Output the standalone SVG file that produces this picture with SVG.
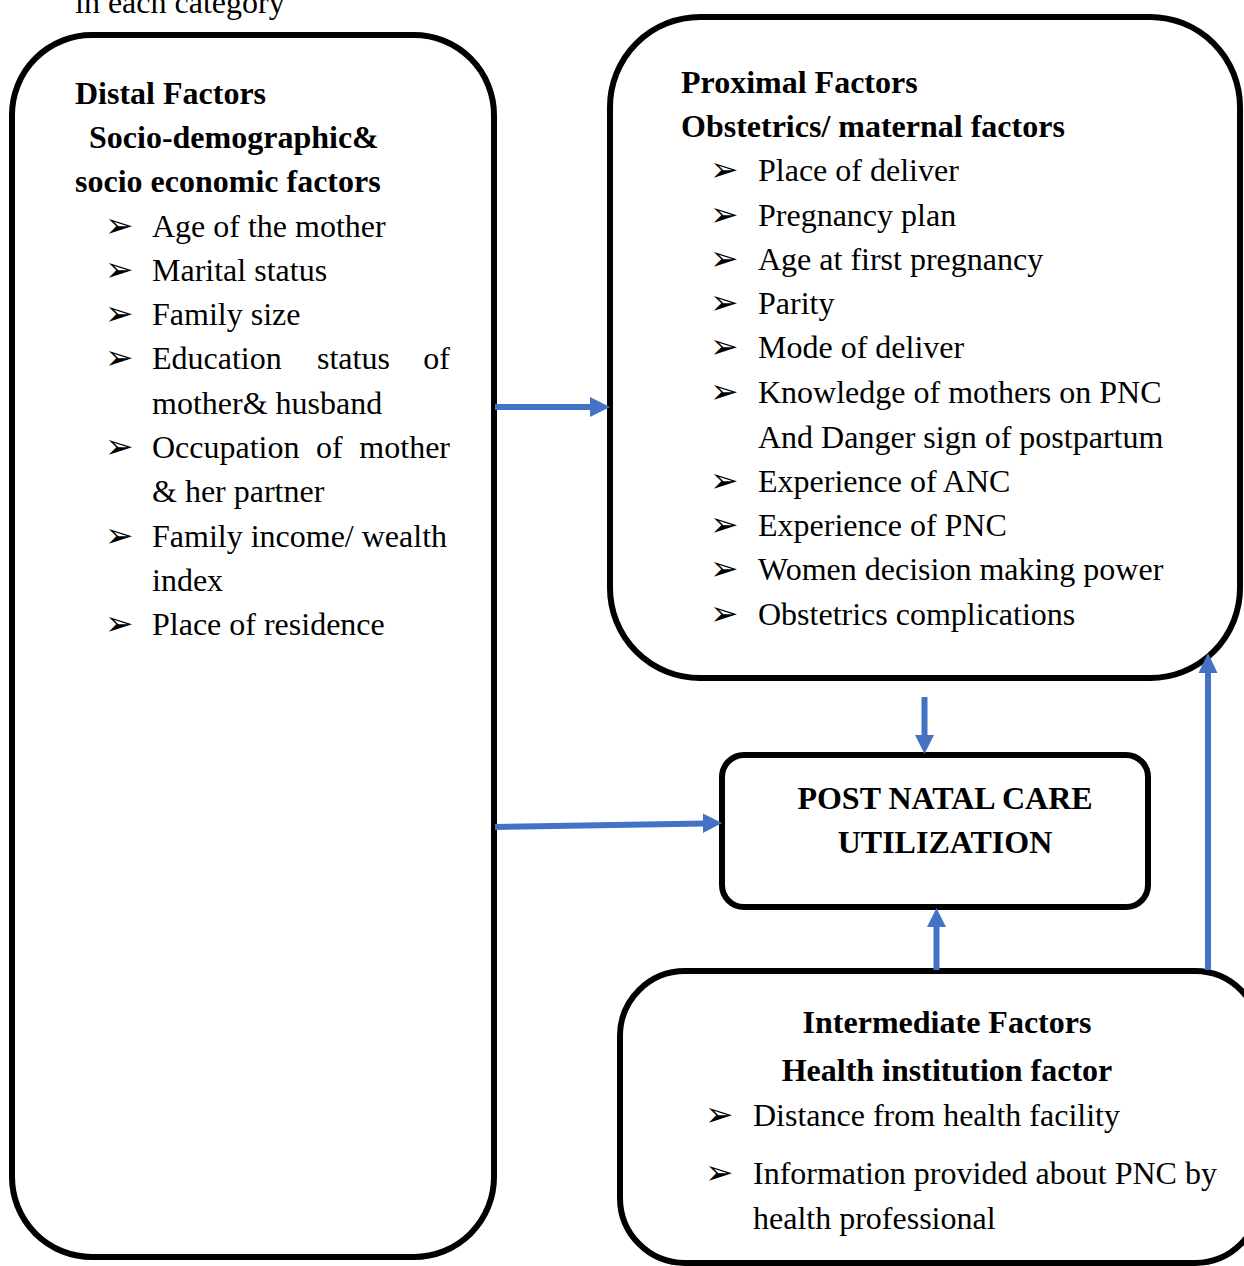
<svg xmlns="http://www.w3.org/2000/svg" width="1244" height="1266" viewBox="0 0 1244 1266">
<style>
.box{fill:#fff;stroke:#000;stroke-width:6}
.t{font-family:"Liberation Serif","Times New Roman",serif;font-size:32px;fill:#000}
.b{font-weight:bold}
.bul{font-family:"DejaVu Sans",sans-serif;font-size:34px;fill:#000}
.con{stroke:#4472C4;stroke-width:6;fill:none}
.head{fill:#4472C4}
</style>
<rect width="1244" height="1266" fill="#fff"/>
<text class="t" x="75" y="13">in each category</text>
<g id="distal">
<rect class="box" x="12" y="35" width="482" height="1222" rx="80"/>
<text class="t b" x="75" y="104">Distal Factors</text>
<text class="t b" x="89" y="148">Socio-demographic&amp;</text>
<text class="t b" x="75" y="192">socio economic factors</text>
<text class="bul" x="105" y="237">➢</text><text class="t" x="152" y="237">Age of the mother</text>
<text class="bul" x="105" y="281">➢</text><text class="t" x="152" y="281">Marital status</text>
<text class="bul" x="105" y="325">➢</text><text class="t" x="152" y="325">Family size</text>
<text class="bul" x="105" y="369">➢</text><text class="t" x="152" y="369">Education</text><text class="t" x="317" y="369">status</text><text class="t" x="450" y="369" text-anchor="end">of</text>
<text class="t" x="152" y="414">mother&amp; husband</text>
<text class="bul" x="105" y="458">➢</text><text class="t" x="152" y="458">Occupation</text><text class="t" x="316" y="458">of</text><text class="t" x="450" y="458" text-anchor="end">mother</text>
<text class="t" x="152" y="502">&amp; her partner</text>
<text class="bul" x="105" y="547">➢</text><text class="t" x="152" y="547">Family income/ wealth</text>
<text class="t" x="152" y="591">index</text>
<text class="bul" x="105" y="635">➢</text><text class="t" x="152" y="635">Place of residence</text>
</g>
<g id="proximal">
<rect class="box" x="610" y="17" width="630" height="661" rx="90"/>
<text class="t b" x="681" y="93">Proximal Factors</text>
<text class="t b" x="681" y="137">Obstetrics/ maternal factors</text>
<text class="bul" x="710" y="181">➢</text><text class="t" x="758" y="181">Place of deliver</text>
<text class="bul" x="710" y="226">➢</text><text class="t" x="758" y="226">Pregnancy plan</text>
<text class="bul" x="710" y="270">➢</text><text class="t" x="758" y="270">Age at first pregnancy</text>
<text class="bul" x="710" y="314">➢</text><text class="t" x="758" y="314">Parity</text>
<text class="bul" x="710" y="358">➢</text><text class="t" x="758" y="358">Mode of deliver</text>
<text class="bul" x="710" y="403">➢</text><text class="t" x="758" y="403">Knowledge of mothers on PNC</text>
<text class="t" x="758" y="448">And Danger sign of postpartum</text>
<text class="bul" x="710" y="492">➢</text><text class="t" x="758" y="492">Experience of ANC</text>
<text class="bul" x="710" y="536">➢</text><text class="t" x="758" y="536">Experience of PNC</text>
<text class="bul" x="710" y="580">➢</text><text class="t" x="758" y="580">Women decision making power</text>
<text class="bul" x="710" y="625">➢</text><text class="t" x="758" y="625">Obstetrics complications</text>
</g>
<g id="pnc">
<rect class="box" x="722" y="755" width="426" height="152" rx="22"/>
<text class="t b" x="945" y="809" text-anchor="middle">POST NATAL CARE</text>
<text class="t b" x="945" y="853" text-anchor="middle">UTILIZATION</text>
</g>
<g id="intermediate">
<rect class="box" x="620" y="971" width="640" height="292" rx="65"/>
<text class="t b" x="947" y="1033" text-anchor="middle">Intermediate Factors</text>
<text class="t b" x="947" y="1081" text-anchor="middle">Health institution factor</text>
<text class="bul" x="705" y="1126">➢</text><text class="t" x="753" y="1126">Distance from health facility</text>
<text class="bul" x="705" y="1184">➢</text><text class="t" x="753" y="1184">Information provided about PNC by</text>
<text class="t" x="753" y="1229">health professional</text>
</g>
<g id="connectors">
<line class="con" x1="495" y1="407" x2="592" y2="407"/>
<polygon class="head" points="590,397 610,407 590,417"/>
<line class="con" x1="495" y1="827" x2="705" y2="823.5"/>
<polygon class="head" points="703,813.5 722,823 703,833"/>
<line class="con" x1="924.5" y1="697" x2="924.5" y2="737"/>
<polygon class="head" points="915,735 934,735 924.5,754"/>
<line class="con" x1="936.5" y1="970" x2="936.5" y2="925"/>
<polygon class="head" points="927,927 946,927 936.5,908"/>
<line class="con" x1="1208" y1="970" x2="1208" y2="671"/>
<polygon class="head" points="1198.5,673 1217.5,673 1208,653"/>
</g>
</svg>
